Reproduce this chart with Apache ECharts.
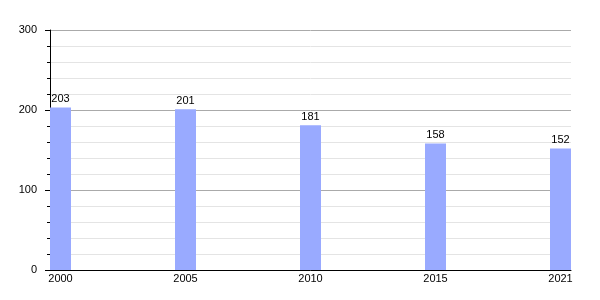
<!DOCTYPE html>
<html>
<head>
<meta charset="utf-8">
<script src="https://cdn.jsdelivr.net/npm/echarts@6/dist/echarts.min.js"></script>
<style>html,body{margin:0;padding:0;background:#fff;}#c{width:600px;height:300px;}</style>
</head>
<body>
<div id="c"></div>
<script>
const years = ['2000', '2005', '2010', '2015', '2021'];
const values = [203, 201, 181, 158, 152];
const yTicks = [0, 100, 200, 300];

const chart = echarts.init(document.getElementById('c'), null, {renderer: 'canvas'});
const font = 'Liberation Sans, Arial, sans-serif';
chart.setOption({
  animation: false,
  grid: {left: 50, right: 29, top: 30, bottom: 30},
  xAxis: {
    type: 'value',
    min: -0.084,
    max: 4.084,
    axisLine: {show: true, onZero: false, lineStyle: {color: '#000', width: 1}},
    axisTick: {show: false},
    splitLine: {show: false},
    axisLabel: {
      customValues: years.map((y, i) => i),
      formatter: v => years[Math.round(v)],
      color: '#000', fontSize: 11, fontFamily: font, margin: 3
    }
  },
  yAxis: {
    type: 'value',
    min: 0, max: 300, interval: 100,
    axisLine: {show: true, onZero: false, lineStyle: {color: '#000', width: 1}},
    axisTick: {show: true, length: 5, lineStyle: {color: '#000'}},
    minorTick: {show: true, splitNumber: 5, length: 3, lineStyle: {color: '#000'}},
    splitLine: {show: true, lineStyle: {color: '#aaaaaa', width: 1}},
    minorSplitLine: {show: true, lineStyle: {color: '#e4e4e4', width: 1}},
    axisLabel: {
      customValues: yTicks,
      color: '#000', fontSize: 11, fontFamily: font, margin: 13
    }
  },
  series: [{
    type: 'bar',
    data: values.map((v, i) => [i, v]),
    barWidth: 21,
    clip: false,
    itemStyle: {color: '#99aaff'},
    label: {show: true, position: 'top', distance: 3, color: '#000', fontSize: 11, fontFamily: font}
  }]
});
</script>
</body>
</html>
